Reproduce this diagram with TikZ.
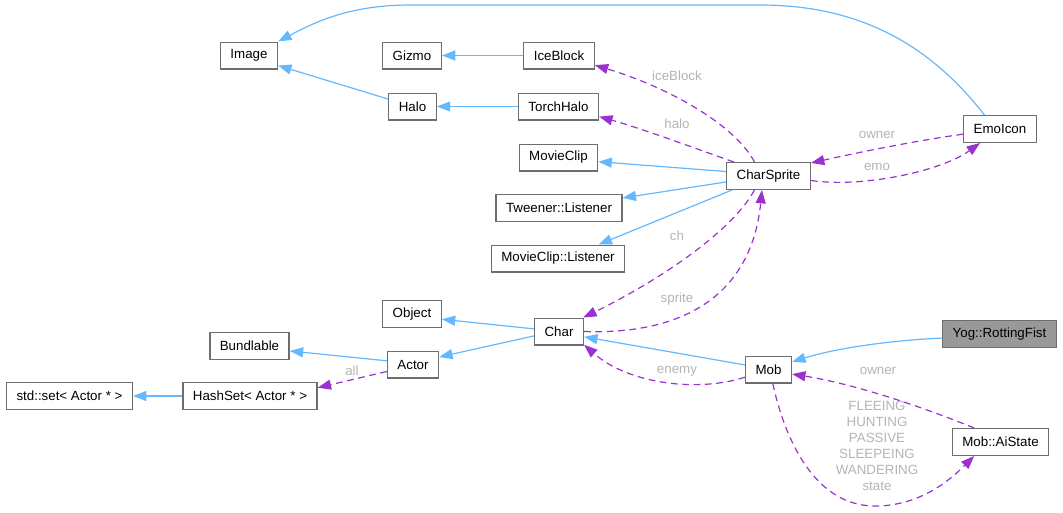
\documentclass[tikz,border=0pt]{standalone}
\usepackage{fontspec}
\setmainfont{Liberation Sans}
\usepackage{tikz}
\usetikzlibrary{arrows.meta}

\definecolor{inhblue}{RGB}{99,184,255}
\definecolor{usepurple}{RGB}{154,50,205}
\definecolor{lblgray}{RGB}{180,180,180}
\definecolor{boxgray}{RGB}{110,110,110}

\begin{document}
\begin{tikzpicture}[x=0.75pt, y=-0.75pt,
  every node/.style={font=\fontsize{10pt}{12pt}\selectfont},
  cls/.style={draw=boxgray, line width=1pt, fill=white, inner xsep=7.5pt, inner ysep=0pt, minimum height=20pt},
  inh/.style={draw=inhblue, line width=0.9pt, -{Triangle[length=10pt, width=7.5pt, fill=inhblue]}},
  use/.style={draw=usepurple, line width=0.9pt, dash pattern=on 5pt off 3.5pt, -{Triangle[length=10pt, width=7.5pt, fill=usepurple]}},
  lbl/.style={text=lblgray, inner sep=0pt}]
  \useasboundingbox (0,0) rectangle (1063,512);

  \node[cls] at (249,55.5) (img) {Image};
  \node[cls] at (412,55.5) (giz) {Gizmo};
  \node[cls] at (559,55.5) (ice) {IceBlock};
  \node[cls] at (412.5,106.5) (halo) {Halo};
  \node[cls] at (558.5,106.5) (th) {TorchHalo};
  \node[cls] at (558.5,157.5) (mc) {MovieClip};
  \node[cls] at (768.5,176) (cs) {CharSprite};
  \node[cls] at (1000,129) (emo) {EmoIcon};
  \node[cls] at (559,208) (tw) {Tweener::Listener};
  \node[cls] at (558,258.5) (mcl) {MovieClip::Listener};
  \node[cls] at (412,314) (obj) {Object};
  \node[cls] at (559,331.5) (chr) {Char};
  \node[cls] at (249.5,346) (bnd) {Bundlable};
  \node[cls] at (413,364.5) (act) {Actor};
  \node[cls, fill={rgb,255:red,153;green,153;blue,153}] at (999.5,334) (yog) {Yog::RottingFist};
  \node[cls] at (768.5,369.5) (mob) {Mob};
  \node[cls] at (69.5,396) (sset) {std::set< Actor * >};
  \node[cls] at (250,396) (hset) {HashSet< Actor * >};
  \node[cls] at (1000.5,442) (ais) {Mob::AiState};

  \draw[inh] (emo.138) .. controls (930,45) and (860,5) .. (760,5) -- (410,5) .. controls (350,5) and (315,22) .. (img.north east);
  \draw[inh] (halo.163) -- (img.-19);
  \draw[inh] (ice.west) -- (giz.east);
  \draw[inh] (th.west) -- (halo.east);
  \draw[inh] (cs.174) -- (mc.-6);
  \draw[inh] (cs.188) -- (tw.9);
  \draw[inh] (cs.201) -- (mcl.19);
  \draw[inh] (chr.174) -- (obj.-10);
  \draw[inh] (chr.190) -- (act.16);
  \draw[inh] (act.172) -- (bnd.-7);
  \draw[inh] (hset.west) -- (sset.east);
  \draw[inh] (mob.169) -- (chr.-12);
  \draw[inh] (yog.184) .. controls (880,341) and (830,350) .. (mob.18);

  \draw[use] (cs.135) .. controls (735,125) and (670,88) .. (ice.-15);
  \draw[use] (cs.158) .. controls (700,150) and (640,128) .. (th.-14);
  \draw[use] (emo.188) .. controls (920,140) and (860,152) .. (cs.17);
  \draw[use] (cs.-6) .. controls (860,188) and (940,172) .. (emo.215);
  \draw[use] (cs.225) .. controls (730,235) and (650,285) .. (chr.30);
  \draw[use] (chr.east) .. controls (690,335) and (752,290) .. (cs.245);
  \draw[use] (act.195) -- (hset.7);
  \draw[use] (mob.198) .. controls (700,392) and (630,385) .. (chr.-28);
  \draw[use] (ais.152) .. controls (930,410) and (860,385) .. (mob.-11);
  \draw[use] (mob.287) .. controls (785,440) and (815,506) .. (875,506) .. controls (920,506) and (950,480) .. (ais.208);

  \node[lbl] at (677,76) (l1) {iceBlock};
  \node[lbl] at (677,124) (l2) {halo};
  \node[lbl] at (877,135) (l3) {owner};
  \node[lbl] at (877,167) (l4) {emo};
  \node[lbl] at (677,236) (l5) {ch};
  \node[lbl] at (677,299) (l6) {sprite};
  \node[lbl] at (352,371) (l7) {all};
  \node[lbl] at (677,371) (l8) {enemy};
  \node[lbl] at (878,371) (l9) {owner};
  \node[lbl, align=center] at (877,446) (l10) {FLEEING\\HUNTING\\PASSIVE\\SLEEPEING\\WANDERING\\state};
\end{tikzpicture}
\end{document}
